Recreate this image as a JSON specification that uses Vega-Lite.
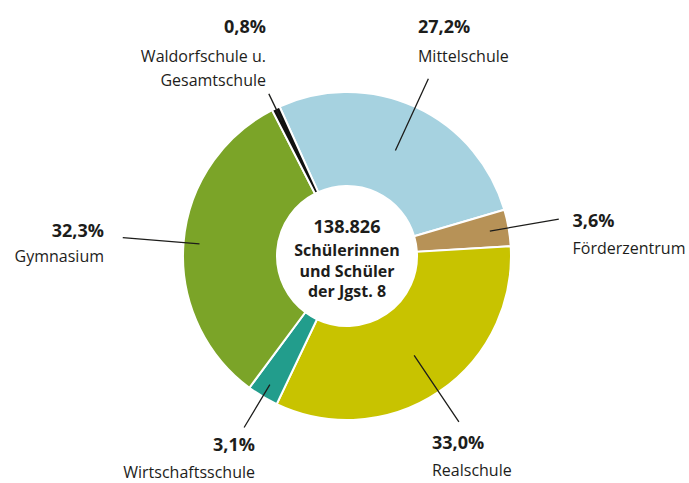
{
  "$schema": "https://vega.github.io/schema/vega-lite/v6.json",
  "width": 684,
  "height": 454,
  "autosize": "none",
  "padding": {"left": 5, "top": 29, "right": 0, "bottom": 0},
  "config": {
    "view": {"stroke": null},
    "locale": {"number": {"decimal": ",", "thousands": ".", "grouping": [3], "currency": ["", " €"]}},
    "text": {"font": "Open Sans", "color": "#1d1d1b"}
  },
  "data": {
    "values": [
      {"nr": 1, "Schulart": "Mittelschule", "Anteil": 0.272},
      {"nr": 2, "Schulart": "Förderzentrum", "Anteil": 0.036},
      {"nr": 3, "Schulart": "Realschule", "Anteil": 0.330},
      {"nr": 4, "Schulart": "Wirtschaftsschule", "Anteil": 0.031},
      {"nr": 5, "Schulart": "Gymnasium", "Anteil": 0.323},
      {"nr": 6, "Schulart": "Waldorfschule u.\nGesamtschule", "Anteil": 0.008}
    ]
  },
  "layer": [
    {
      "mark": {"type": "arc", "radius": 164, "radius2": 70, "stroke": "#ffffff", "strokeWidth": 2},
      "encoding": {
        "theta": {"field": "Anteil", "type": "quantitative", "stack": true, "scale": {"range": [-0.4241, 5.8591]}},
        "order": {"field": "nr", "type": "quantitative"},
        "color": {"field": "Schulart", "type": "nominal", "legend": null,
          "scale": {"domain": ["Mittelschule", "Förderzentrum", "Realschule", "Wirtschaftsschule", "Gymnasium", "Waldorfschule u.\nGesamtschule"],
                    "range": ["#a6d2e0", "#b79257", "#c8c300", "#229d8c", "#7ba428", "#111111"]}}
      }
    },
    {
      "mark": {"type": "arc", "radius": 195, "radius2": 116, "padAngle": 3.14, "filled": false, "stroke": "#1d1d1b", "strokeWidth": 1.3},
      "encoding": {
        "theta": {"field": "Anteil", "type": "quantitative", "stack": true, "scale": {"range": [-0.4241, 5.8591]}},
        "order": {"field": "nr", "type": "quantitative"},
        "strokeOpacity": {"condition": {"test": "datum.nr === 1", "value": 1}, "value": 0}
      }
    },
    {
      "mark": {"type": "arc", "radius": 215, "radius2": 145, "padAngle": 3.14, "filled": false, "stroke": "#1d1d1b", "strokeWidth": 1.3},
      "encoding": {
        "theta": {"field": "Anteil", "type": "quantitative", "stack": true, "scale": {"range": [-0.4241, 5.8591]}},
        "order": {"field": "nr", "type": "quantitative"},
        "strokeOpacity": {"condition": {"test": "datum.nr === 2", "value": 1}, "value": 0}
      }
    },
    {
      "mark": {"type": "arc", "radius": 200, "radius2": 120, "padAngle": 3.14, "filled": false, "stroke": "#1d1d1b", "strokeWidth": 1.3},
      "encoding": {
        "theta": {"field": "Anteil", "type": "quantitative", "stack": true, "scale": {"range": [-0.4241, 5.8591]}},
        "order": {"field": "nr", "type": "quantitative"},
        "strokeOpacity": {"condition": {"test": "datum.nr === 3", "value": 1}, "value": 0}
      }
    },
    {
      "mark": {"type": "arc", "radius": 200, "radius2": 150, "padAngle": 3.14, "filled": false, "stroke": "#1d1d1b", "strokeWidth": 1.3},
      "encoding": {
        "theta": {"field": "Anteil", "type": "quantitative", "stack": true, "scale": {"range": [-0.4241, 5.8591]}},
        "order": {"field": "nr", "type": "quantitative"},
        "strokeOpacity": {"condition": {"test": "datum.nr === 4", "value": 1}, "value": 0}
      }
    },
    {
      "mark": {"type": "arc", "radius": 225, "radius2": 148, "padAngle": 3.14, "filled": false, "stroke": "#1d1d1b", "strokeWidth": 1.3},
      "encoding": {
        "theta": {"field": "Anteil", "type": "quantitative", "stack": true, "scale": {"range": [-0.4241, 5.8591]}},
        "order": {"field": "nr", "type": "quantitative"},
        "strokeOpacity": {"condition": {"test": "datum.nr === 5", "value": 1}, "value": 0}
      }
    },
    {
      "mark": {"type": "arc", "radius": 180, "radius2": 150, "padAngle": 3.14, "filled": false, "stroke": "#1d1d1b", "strokeWidth": 1.3},
      "encoding": {
        "theta": {"field": "Anteil", "type": "quantitative", "stack": true, "scale": {"range": [-0.4241, 5.8591]}},
        "order": {"field": "nr", "type": "quantitative"},
        "strokeOpacity": {"condition": {"test": "datum.nr === 6", "value": 1}, "value": 0}
      }
    },
    {
      "mark": {"type": "text", "radius": 230, "align": "left", "baseline": "alphabetic", "dx": -25, "dy": -14, "fontSize": 18, "fontWeight": "bold"},
      "encoding": {
        "theta": {"field": "Anteil", "type": "quantitative", "stack": true, "scale": {"range": [-0.4241, 5.8591]}},
        "order": {"field": "nr", "type": "quantitative"},
        "text": {"condition": {"test": "datum.nr === 1", "field": "Anteil", "type": "quantitative", "format": ".1%"}, "value": ""}
      }
    },
    {
      "mark": {"type": "text", "radius": 230, "align": "left", "baseline": "alphabetic", "dx": -25, "dy": 15, "fontSize": 16, "lineBreak": "\n", "lineHeight": 24},
      "encoding": {
        "theta": {"field": "Anteil", "type": "quantitative", "stack": true, "scale": {"range": [-0.4241, 5.8591]}},
        "order": {"field": "nr", "type": "quantitative"},
        "text": {"condition": {"test": "datum.nr === 1", "field": "Schulart", "type": "nominal"}, "value": ""}
      }
    },
    {
      "mark": {"type": "text", "radius": 230, "align": "left", "baseline": "alphabetic", "dx": -1, "dy": 10.5, "fontSize": 18, "fontWeight": "bold"},
      "encoding": {
        "theta": {"field": "Anteil", "type": "quantitative", "stack": true, "scale": {"range": [-0.4241, 5.8591]}},
        "order": {"field": "nr", "type": "quantitative"},
        "text": {"condition": {"test": "datum.nr === 2", "field": "Anteil", "type": "quantitative", "format": ".1%"}, "value": ""}
      }
    },
    {
      "mark": {"type": "text", "radius": 230, "align": "left", "baseline": "alphabetic", "dx": -1, "dy": 37.5, "fontSize": 16, "lineBreak": "\n", "lineHeight": 24},
      "encoding": {
        "theta": {"field": "Anteil", "type": "quantitative", "stack": true, "scale": {"range": [-0.4241, 5.8591]}},
        "order": {"field": "nr", "type": "quantitative"},
        "text": {"condition": {"test": "datum.nr === 2", "field": "Schulart", "type": "nominal"}, "value": ""}
      }
    },
    {
      "mark": {"type": "text", "radius": 230, "align": "left", "baseline": "alphabetic", "dx": -43.7, "dy": 2.4, "fontSize": 18, "fontWeight": "bold"},
      "encoding": {
        "theta": {"field": "Anteil", "type": "quantitative", "stack": true, "scale": {"range": [-0.4241, 5.8591]}},
        "order": {"field": "nr", "type": "quantitative"},
        "text": {"condition": {"test": "datum.nr === 3", "field": "Anteil", "type": "quantitative", "format": ".1%"}, "value": ""}
      }
    },
    {
      "mark": {"type": "text", "radius": 230, "align": "left", "baseline": "alphabetic", "dx": -43.7, "dy": 29.4, "fontSize": 16, "lineBreak": "\n", "lineHeight": 24},
      "encoding": {
        "theta": {"field": "Anteil", "type": "quantitative", "stack": true, "scale": {"range": [-0.4241, 5.8591]}},
        "order": {"field": "nr", "type": "quantitative"},
        "text": {"condition": {"test": "datum.nr === 3", "field": "Schulart", "type": "nominal"}, "value": ""}
      }
    },
    {
      "mark": {"type": "text", "radius": 230, "align": "right", "baseline": "alphabetic", "dx": 26.3, "dy": -1.75, "fontSize": 18, "fontWeight": "bold"},
      "encoding": {
        "theta": {"field": "Anteil", "type": "quantitative", "stack": true, "scale": {"range": [-0.4241, 5.8591]}},
        "order": {"field": "nr", "type": "quantitative"},
        "text": {"condition": {"test": "datum.nr === 4", "field": "Anteil", "type": "quantitative", "format": ".1%"}, "value": ""}
      }
    },
    {
      "mark": {"type": "text", "radius": 230, "align": "right", "baseline": "alphabetic", "dx": 26.3, "dy": 24.75, "fontSize": 16, "lineBreak": "\n", "lineHeight": 24},
      "encoding": {
        "theta": {"field": "Anteil", "type": "quantitative", "stack": true, "scale": {"range": [-0.4241, 5.8591]}},
        "order": {"field": "nr", "type": "quantitative"},
        "text": {"condition": {"test": "datum.nr === 4", "field": "Schulart", "type": "nominal"}, "value": ""}
      }
    },
    {
      "mark": {"type": "text", "radius": 245, "align": "right", "baseline": "alphabetic", "dx": 1.2, "dy": 1, "fontSize": 18, "fontWeight": "bold"},
      "encoding": {
        "theta": {"field": "Anteil", "type": "quantitative", "stack": true, "scale": {"range": [-0.4241, 5.8591]}},
        "order": {"field": "nr", "type": "quantitative"},
        "text": {"condition": {"test": "datum.nr === 5", "field": "Anteil", "type": "quantitative", "format": ".1%"}, "value": ""}
      }
    },
    {
      "mark": {"type": "text", "radius": 245, "align": "right", "baseline": "alphabetic", "dx": 1.2, "dy": 26, "fontSize": 16, "lineBreak": "\n", "lineHeight": 24},
      "encoding": {
        "theta": {"field": "Anteil", "type": "quantitative", "stack": true, "scale": {"range": [-0.4241, 5.8591]}},
        "order": {"field": "nr", "type": "quantitative"},
        "text": {"condition": {"test": "datum.nr === 5", "field": "Schulart", "type": "nominal"}, "value": ""}
      }
    },
    {
      "mark": {"type": "text", "radius": 230, "align": "right", "baseline": "alphabetic", "dx": 18.9, "dy": -15.8, "fontSize": 18, "fontWeight": "bold"},
      "encoding": {
        "theta": {"field": "Anteil", "type": "quantitative", "stack": true, "scale": {"range": [-0.4241, 5.8591]}},
        "order": {"field": "nr", "type": "quantitative"},
        "text": {"condition": {"test": "datum.nr === 6", "field": "Anteil", "type": "quantitative", "format": ".1%"}, "value": ""}
      }
    },
    {
      "mark": {"type": "text", "radius": 230, "align": "right", "baseline": "alphabetic", "dx": 18.9, "dy": 13.2, "fontSize": 16, "lineBreak": "\n", "lineHeight": 24},
      "encoding": {
        "theta": {"field": "Anteil", "type": "quantitative", "stack": true, "scale": {"range": [-0.4241, 5.8591]}},
        "order": {"field": "nr", "type": "quantitative"},
        "text": {"condition": {"test": "datum.nr === 6", "field": "Schulart", "type": "nominal"}, "value": ""}
      }
    },
    {
      "data": {"values": [{"Gesamt": 138826}]},
      "mark": {"type": "text", "align": "center", "baseline": "alphabetic", "dy": -23, "fontSize": 18, "fontWeight": "bold"},
      "encoding": {
        "text": {"field": "Gesamt", "type": "quantitative", "format": ",d"}
      }
    },
    {
      "data": {"values": [{"Gesamt": 138826}]},
      "mark": {"type": "text", "align": "center", "baseline": "alphabetic", "dy": 0, "fontSize": 16, "fontWeight": "bold", "lineHeight": 20.5},
      "encoding": {
        "text": {"value": ["Schülerinnen", "und Schüler", "der Jgst. 8"]}
      }
    }
  ]
}
